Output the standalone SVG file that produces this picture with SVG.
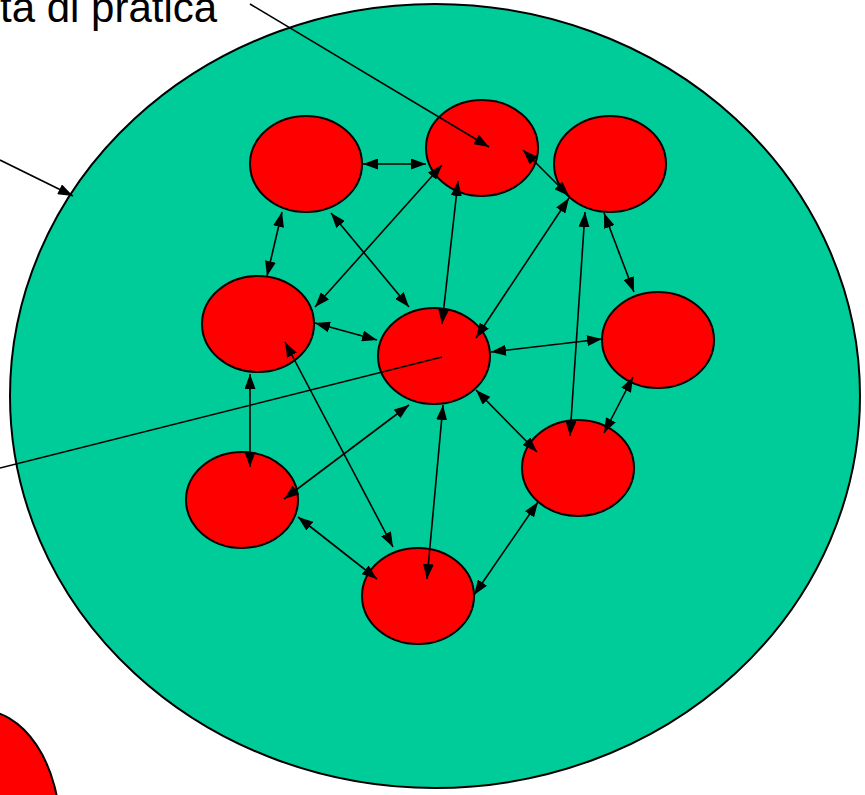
<svg xmlns="http://www.w3.org/2000/svg" width="865" height="795" viewBox="0 0 865 795">
<style>
.node{fill:#FF0000;stroke:#000;stroke-width:2}
.c{stroke:#000;stroke-width:1.6;fill:none}
.d{marker-start:url(#ah);marker-end:url(#ah)}
.e{marker-end:url(#ah)}
.lbl{font-family:"Liberation Sans",Arial,sans-serif;font-size:42px;fill:#000}
</style>
<defs>
<marker id="ah" markerUnits="userSpaceOnUse" markerWidth="15" markerHeight="11" refX="15" refY="5.5" orient="auto-start-reverse">
<path d="M0,0 L15,5.5 L0,11 z" fill="#000"/>
</marker>
</defs>
<rect width="865" height="795" fill="#fff"/>
<g id="community"><ellipse cx="435" cy="396" rx="425" ry="392" fill="#00CC99" stroke="#000" stroke-width="2"/></g>
<g id="outside-node"><ellipse class="node" cx="-20" cy="830" rx="80" ry="120"/></g>
<g id="label"><text class="lbl" x="0" y="22">ta di pratica</text></g>
<g id="n-tl"><ellipse class="node" cx="306" cy="164" rx="56" ry="48"/></g>
<g id="n-tm"><ellipse class="node" cx="482" cy="148" rx="56" ry="48"/></g>
<g id="n-tr"><ellipse class="node" cx="610" cy="164" rx="56" ry="48"/></g>
<g id="n-ml"><ellipse class="node" cx="258" cy="324" rx="56" ry="48"/></g>
<g id="n-m"><ellipse class="node" cx="434" cy="356" rx="56" ry="48"/></g>
<g id="n-rm"><ellipse class="node" cx="658" cy="340" rx="56" ry="48"/></g>
<g id="n-bl"><ellipse class="node" cx="242" cy="500" rx="56" ry="48"/></g>
<g id="n-br"><ellipse class="node" cx="578" cy="468" rx="56" ry="48"/></g>
<g id="n-b"><ellipse class="node" cx="418" cy="596" rx="56" ry="48"/></g>
<g id="connectors">
<line class="c e" x1="250" y1="4" x2="489" y2="147"/>
<line class="c e" x1="0" y1="160" x2="73" y2="196"/>
<line class="c" x1="0" y1="468" x2="442" y2="357"/>
<line class="c d" x1="363" y1="164" x2="426" y2="164"/>
<line class="c d" x1="523" y1="150" x2="569" y2="196"/>
<line class="c d" x1="282" y1="212" x2="267" y2="276"/>
<line class="c d" x1="331" y1="213" x2="409" y2="307"/>
<line class="c d" x1="442" y1="165" x2="315" y2="307"/>
<line class="c d" x1="458" y1="181" x2="442" y2="324"/>
<line class="c d" x1="569" y1="198" x2="476" y2="338"/>
<line class="c d" x1="585" y1="212" x2="570" y2="436"/>
<line class="c d" x1="604" y1="213" x2="634" y2="292"/>
<line class="c d" x1="315" y1="323" x2="377" y2="340"/>
<line class="c d" x1="491" y1="352" x2="602" y2="339"/>
<line class="c d" x1="633" y1="377" x2="604" y2="433"/>
<line class="c d" x1="476" y1="390" x2="537" y2="452"/>
<line class="c d" x1="250" y1="374" x2="250" y2="467"/>
<line class="c d" x1="285" y1="342" x2="393" y2="547"/>
<line class="c d" x1="409" y1="405" x2="284" y2="499"/>
<line class="c d" x1="443" y1="405" x2="427" y2="579"/>
<line class="c d" x1="298" y1="517" x2="377" y2="579"/>
<line class="c d" x1="474" y1="595" x2="538" y2="502"/>
</g>
</svg>
